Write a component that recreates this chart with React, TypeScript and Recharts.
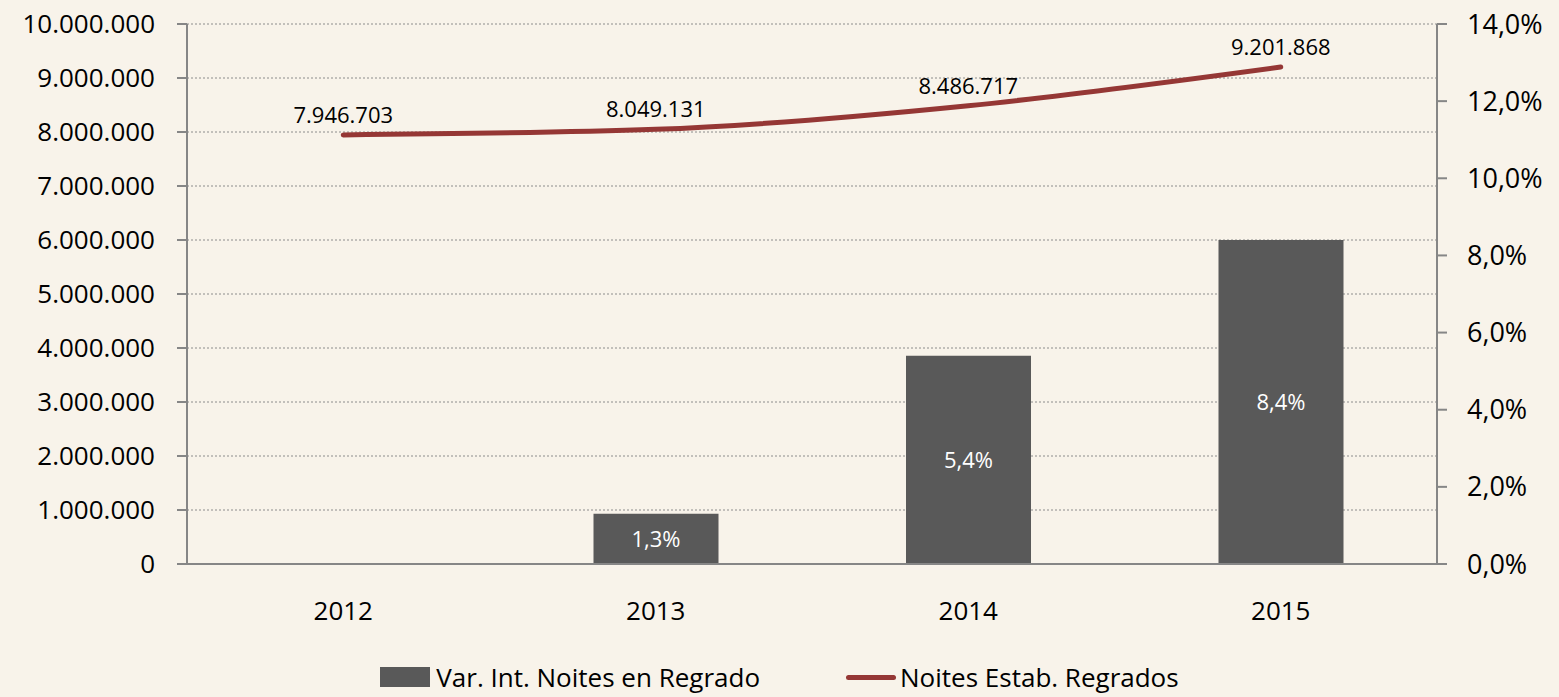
import React from 'react';
import { ComposedChart, Bar, Line, XAxis, YAxis, CartesianGrid, LabelList, Legend } from 'recharts';

const years = ['2012', '2013', '2014', '2015'];
const noites = [7946703, 8049131, 8486717, 9201868];
const variacion = [null, 1.3, 5.4, 8.4];
const leftTicks = [0, 1000000, 2000000, 3000000, 4000000, 5000000, 6000000, 7000000, 8000000, 9000000, 10000000];
const rightTicks = [0, 2, 4, 6, 8, 10, 12, 14];
const boundaryTicks = [0, 1, 2, 3, 4];

const data = years.map((y, i) => ({ year: y, noites: noites[i], variacion: variacion[i] }));

const FONT = '"Open Sans", sans-serif';
const fmtInt = (v: number) => v === 0 ? '0' : String(Math.round(v)).replace(/\B(?=(\d{3})+(?!\d))/g, '.');
const fmtPct = (v: number) => v.toFixed(1).replace('.', ',') + '%';

const LegendContent = () => (
  <div style={{ display: 'flex', justifyContent: 'center', alignItems: 'center', fontFamily: FONT, fontSize: 26, color: '#000', lineHeight: '26px', height: 26 }}>
    <div style={{ display: 'flex', alignItems: 'center', marginRight: 86 }}>
      <div style={{ width: 50, height: 20, background: '#595959', marginRight: 6 }} />
      <span>Var. Int. Noites en Regrado</span>
    </div>
    <div style={{ display: 'flex', alignItems: 'center' }}>
      <div style={{ width: 50, height: 5, background: '#953735', borderRadius: 3, marginRight: 4 }} />
      <span>Noites Estab. Regrados</span>
    </div>
  </div>
);

export default function App() {
  return (
    <div style={{ position: 'absolute', left: 0, top: 0, width: 1559, height: 697, background: '#f8f3ea', overflow: 'hidden' }}>
      <ComposedChart width={1559} height={697} data={data} margin={{ top: 24, right: 0, bottom: 73, left: 0 }} barSize={125}>
        <CartesianGrid vertical={false} stroke="#8c8c8c" strokeDasharray="2 2" yAxisId="left" />
        <XAxis xAxisId="b" type="number" domain={[0, 4]} ticks={boundaryTicks} tick={false} height={0}
          axisLine={false} tickLine={{ stroke: '#868686', strokeWidth: 2 }} tickSize={9} />
        <XAxis xAxisId="cat" dataKey="year" type="category" height={60} tickLine={false}
          axisLine={{ stroke: '#868686', strokeWidth: 2 }}
          tick={{ fill: '#000', fontSize: 26, fontFamily: FONT }} tickMargin={32} />
        <YAxis yAxisId="left" orientation="left" domain={[0, 10000000]} ticks={leftTicks} width={187}
          tickFormatter={fmtInt} interval={0}
          axisLine={{ stroke: '#868686', strokeWidth: 2 }} tickLine={{ stroke: '#868686', strokeWidth: 2 }} tickSize={10} tickMargin={22}
          tick={{ fill: '#000', fontSize: 26, fontFamily: FONT }} />
        <YAxis yAxisId="right" orientation="right" domain={[0, 14]} ticks={rightTicks} width={122}
          tickFormatter={fmtPct} interval={0}
          axisLine={{ stroke: '#868686', strokeWidth: 2 }} tickLine={{ stroke: '#868686', strokeWidth: 2 }} tickSize={10} tickMargin={20}
          tick={{ fill: '#000', fontSize: 27, fontFamily: FONT }} />
        <Bar xAxisId="cat" yAxisId="right" dataKey="variacion" fill="#595959" isAnimationActive={false}>
          <LabelList dataKey="variacion" position="center" formatter={(v: any) => v == null ? '' : fmtPct(Number(v))}
            style={{ fill: '#fff', fontSize: 22, fontFamily: FONT }} />
        </Bar>
        <Line xAxisId="cat" yAxisId="left" type="monotone" dataKey="noites" stroke="#953735" strokeWidth={5}
          dot={false} isAnimationActive={false} strokeLinecap="round">
          <LabelList dataKey="noites" position="top" offset={12} formatter={(v: any) => fmtInt(Number(v))}
            style={{ fill: '#000', fontSize: 22, fontFamily: FONT }} />
        </Line>
        <Legend verticalAlign="middle" align="center" layout="horizontal" content={<LegendContent />}
          wrapperStyle={{ position: 'absolute', top: 664, left: 0, width: 1559 }} />
      </ComposedChart>
    </div>
  );
}
